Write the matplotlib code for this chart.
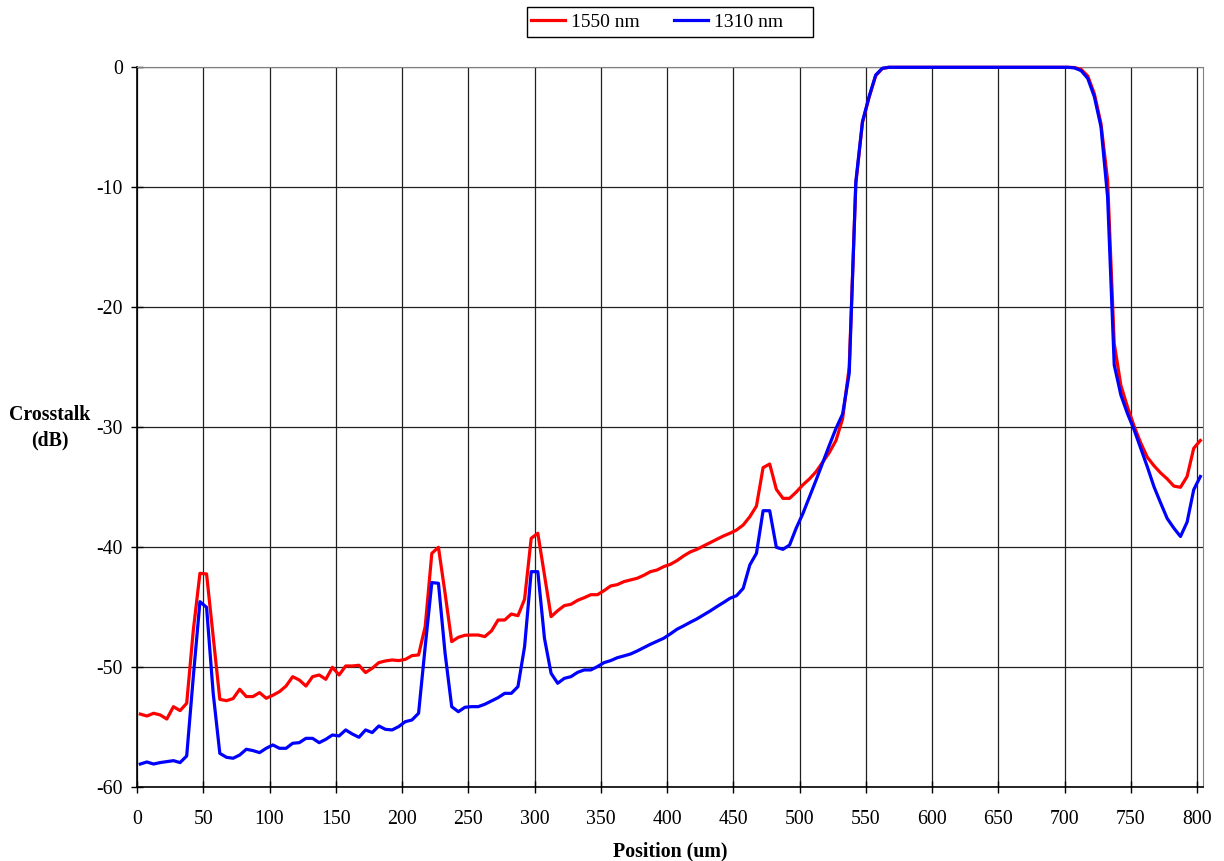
import matplotlib
matplotlib.use('Agg')
import matplotlib.pyplot as plt
from matplotlib.patches import Rectangle
import numpy as np

plt.rcParams['font.family'] = ['Liberation Serif', 'DejaVu Serif']
plt.rcParams['font.size'] = 14.3
plt.rcParams['axes.unicode_minus'] = False

# sampling positions (um), every 5 um
position = np.arange(2.5, 805, 5)

flat_top = [0.0, 0.0, 0.0, 0.0, 0.0, 0.0, 0.0, 0.0, 0.0, 0.0,
            0.0, 0.0, 0.0, 0.0, 0.0, 0.0, 0.0, 0.0, 0.0, 0.0,
            0.0, 0.0, 0.0, 0.0, 0.0, 0.0, 0.0, 0.0]

xt_1550 = [-53.9, -54.06, -53.83, -53.97, -54.31, -53.28, -53.61, -53.0, -46.9, -42.17,
           -42.22, -47.44, -52.67, -52.78, -52.61, -51.83, -52.44, -52.44, -52.11, -52.58,
           -52.33, -52.03, -51.56, -50.78, -51.06, -51.56, -50.78, -50.64, -51.0, -50.0,
           -50.64, -49.89, -49.89, -49.83, -50.44, -50.08, -49.61, -49.47, -49.39, -49.44,
           -49.34, -49.03, -48.97, -46.6, -40.5, -40.0, -43.83, -47.86, -47.5, -47.33,
           -47.31, -47.31, -47.44, -46.97, -46.06, -46.06, -45.56, -45.7, -44.33, -39.25,
           -38.83, -42.3, -45.78, -45.28, -44.86, -44.75, -44.42, -44.2, -43.95, -43.95,
           -43.61, -43.22, -43.11, -42.86, -42.72, -42.58, -42.33, -42.03, -41.89, -41.61,
           -41.42, -41.11, -40.72, -40.39, -40.17, -39.89, -39.61, -39.33, -39.06, -38.83,
           -38.56, -38.14, -37.45, -36.56, -33.36, -33.06, -35.17, -35.92, -35.92, -35.4,
           -34.8, -34.3, -33.7, -32.9, -32.1, -31.1, -29.3, -25.0, -9.7, -4.6,
           -2.5, -0.7, -0.1] + flat_top + [
           -0.02, -0.17, -0.72, -2.2, -4.7, -9.4, -23.0, -26.5, -28.3, -29.9,
           -31.3, -32.5, -33.2, -33.8, -34.3, -34.9, -35.0, -34.1, -31.75, -31.1]

xt_1310 = [-58.06, -57.89, -58.06, -57.94, -57.86, -57.78, -57.94, -57.39, -50.78, -44.53,
           -45.0, -52.17, -57.17, -57.5, -57.58, -57.31, -56.83, -56.94, -57.11, -56.75,
           -56.47, -56.75, -56.75, -56.33, -56.28, -55.92, -55.92, -56.28, -56.0, -55.64,
           -55.72, -55.22, -55.56, -55.83, -55.22, -55.44, -54.89, -55.17, -55.22, -54.94,
           -54.53, -54.39, -53.83, -48.28, -42.94, -43.0, -48.83, -53.28, -53.7, -53.33,
           -53.28, -53.28, -53.08, -52.8, -52.53, -52.17, -52.17, -51.61, -48.28, -42.03,
           -42.03, -47.58, -50.5, -51.33, -50.92, -50.78, -50.42, -50.22, -50.22, -49.94,
           -49.61, -49.44, -49.2, -49.05, -48.89, -48.64, -48.36, -48.08, -47.83, -47.58,
           -47.22, -46.83, -46.55, -46.25, -45.97, -45.64, -45.31, -44.95, -44.61, -44.25,
           -44.03, -43.42, -41.47, -40.5, -36.95, -36.95, -40.0, -40.17, -39.81, -38.4,
           -37.2, -35.8, -34.4, -32.95, -31.5, -30.1, -28.9, -25.5, -9.53, -4.53,
           -2.45, -0.64, -0.08] + flat_top + [
           -0.05, -0.28, -0.92, -2.45, -4.95, -10.8, -24.8, -27.3, -28.86, -30.2,
           -31.75, -33.3, -34.95, -36.3, -37.6, -38.4, -39.1, -37.9, -35.2, -34.1]

x_ticks = np.arange(0, 801, 50)
y_ticks = np.arange(-60, 1, 10)

W, H = 1224, 861
fig = plt.figure(figsize=(W / 100, H / 100), dpi=100)
ax = fig.add_axes([137 / W, 1 - 787.3 / H, (1203 - 137) / W, (787.3 - 67.3) / H])

ax.plot(position, xt_1550, color='#ff0000', lw=2.3, label='1550 nm', clip_on=False, zorder=3)
ax.plot(position, xt_1310, color='#0000ff', lw=2.3, label='1310 nm', clip_on=False, zorder=4)

ax.set_xlim(0, 804.5)
ax.set_ylim(-60, 0)
ax.set_xticks(x_ticks)
ax.set_yticks(y_ticks)
ax.grid(True, color='#202020', lw=0.9)
ax.set_axisbelow(True)
ax.tick_params(direction='inout', length=8, width=1, color='black')
ax.tick_params(axis='x', pad=12)
ax.tick_params(axis='y', pad=6)

for side in ['top', 'right']:
    ax.spines[side].set_color('#808080')
for side in ['left', 'bottom']:
    ax.spines[side].set_color('black')
    ax.spines[side].set_linewidth(1.2)

fig.text(50 / W, 1 - 428 / H, 'Crosstalk\n(dB)', ha='center', va='center',
         fontweight='bold', multialignment='center', linespacing=1.35)
fig.text(670 / W, 1 - 851 / H, 'Position (um)', ha='center', va='center',
         fontweight='bold')

# legend box drawn separately (Excel leaves extra room on the right)
fig.patches.append(Rectangle((527 / W, 1 - 37 / H), (813 - 527) / W, 30 / H,
                             transform=fig.transFigure, fill=False,
                             edgecolor='black', lw=1.0))
fig.legend(loc='center left', bbox_to_anchor=(531 / W, 1 - 22 / H), ncol=2,
           frameon=False, handlelength=1.75, handletextpad=0.3,
           columnspacing=1.75, borderpad=0, borderaxespad=0, fontsize=14)

fig.savefig('out.png', dpi=100)
